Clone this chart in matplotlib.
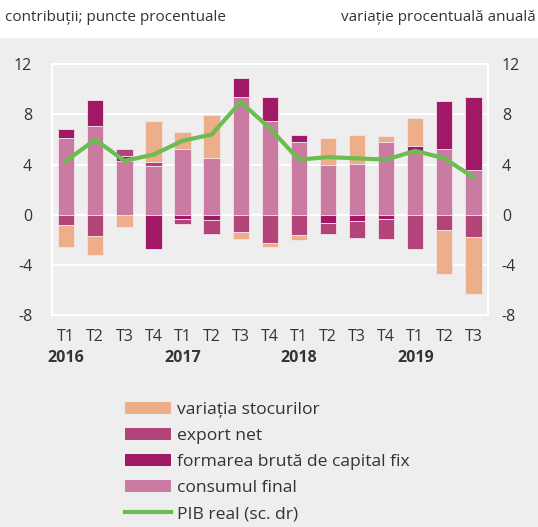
import numpy as np
import matplotlib.pyplot as plt
from matplotlib.patches import Patch, Rectangle
from matplotlib.lines import Line2D

plt.rcParams['font.family'] = ['Open Sans', 'DejaVu Sans']

quarters = ["T1", "T2", "T3", "T4", "T1", "T2", "T3", "T4",
            "T1", "T2", "T3", "T4", "T1", "T2", "T3"]
years = ["2016", "2017", "2018", "2019"]
year_pos = [0, 4, 8, 12]

consum = [6.1, 7.06, 4.3, 3.89, 5.21, 4.55, 9.39, 7.46, 5.82, 3.97, 4.05, 5.82, 5.03, 5.24, 3.57]
fbcf = [0.75, 2.07, 0.4, -2.72, -0.34, -0.4, 1.48, 1.93, 0.58, -0.63, -0.48, -0.32, 0.45, 3.86, 5.82]
export_net = [-0.85, -1.67, 0.53, 0.34, -0.43, -1.16, -1.35, -2.22, -1.59, -0.93, -1.4, -1.64, -2.72, -1.19, -1.75]
stocuri = [-1.75, -1.5, -0.98, 3.23, 1.43, 3.44, -0.61, -0.38, -0.45, 2.14, 2.3, 0.5, 2.27, -3.49, -4.6]
pib = [4.3, 6.0, 4.3, 4.8, 5.9, 6.4, 9.0, 6.9, 4.4, 4.6, 4.5, 4.4, 5.1, 4.5, 3.0]

c_stoc = "#edae8a"
c_exp = "#b3447a"
c_fbcf = "#a01866"
c_cons = "#c97ba1"
c_pib = "#6cbd4f"
bg = "#eeeeee"
txt = "#333333"

fig = plt.figure(figsize=(5.38, 5.27), dpi=100, facecolor=bg)
# white strip on top
fig.patches.append(Rectangle((0, 0.928), 1, 0.072, transform=fig.transFigure,
                             facecolor="white", edgecolor="none", zorder=0))

ax = fig.add_axes([0.096, 0.402, 0.811, 0.476])
ax.set_facecolor(bg)

x = np.arange(len(quarters))
pos = np.zeros(len(x))
neg = np.zeros(len(x))
for vals, col in [(consum, c_cons), (fbcf, c_fbcf), (export_net, c_exp), (stocuri, c_stoc)]:
    v = np.asarray(vals)
    bottom = np.where(v >= 0, pos, neg)
    ax.bar(x, v, bottom=bottom, width=0.56, color=col,
           edgecolor="#f3e3ea", linewidth=0.6, zorder=2)
    pos = pos + np.where(v >= 0, v, 0)
    neg = neg + np.where(v < 0, v, 0)

ax.set_xlim(-0.5, 14.5)
ax.set_ylim(-8, 12)
ax.set_yticks([-8, -4, 0, 4, 8, 12])
ax.set_yticklabels(["-8", "-4", "0", "4", "8", "12"])
ax.grid(axis="y", color="white", linewidth=1.5, zorder=0)
ax.set_axisbelow(True)
for s in ax.spines.values():
    s.set_color("white")
    s.set_linewidth(1.5)
ax.tick_params(length=0, labelsize=11.5, colors=txt, pad=14)
ax.tick_params(axis="x", pad=10)
ax.set_xticks(x)
ax.set_xticklabels(quarters)
for p, yr in zip(year_pos, years):
    ax.text(p, -11.45, yr, ha="center", va="center", fontsize=11.5,
            fontweight="bold", color=txt)

ax2 = ax.twinx()
ax2.set_ylim(-8, 12)
ax2.set_yticks([-8, -4, 0, 4, 8, 12])
ax2.set_yticklabels(["-8", "-4", "0", "4", "8", "12"])
ax2.tick_params(length=0, labelsize=11.5, colors=txt, pad=10)
for s in ax2.spines.values():
    s.set_visible(False)
ax2.plot(x, pib, color=c_pib, linewidth=3, zorder=3)

fig.text(0.01, 0.966, "contribuții; puncte procentuale", fontsize=11,
         color=txt, va="center", ha="left")
fig.text(0.995, 0.966, "variație procentuală anuală", fontsize=11,
         color=txt, va="center", ha="right")

handles = [Patch(facecolor=c_stoc), Patch(facecolor=c_exp),
           Patch(facecolor=c_fbcf), Patch(facecolor=c_cons),
           Line2D([0], [0], color=c_pib, linewidth=3)]
labels = ["variația stocurilor", "export net", "formarea brută de capital fix",
          "consumul final", "PIB real (sc. dr)"]
leg = fig.legend(handles, labels, loc="upper left", bbox_to_anchor=(0.232, 0.238),
                 frameon=False, fontsize=12.6, handlelength=2.65, handleheight=0.7,
                 labelspacing=0.56, handletextpad=0.35, borderpad=0, borderaxespad=0)
for t in leg.get_texts():
    t.set_color(txt)

fig.savefig("out.png", dpi=100, facecolor=bg)
